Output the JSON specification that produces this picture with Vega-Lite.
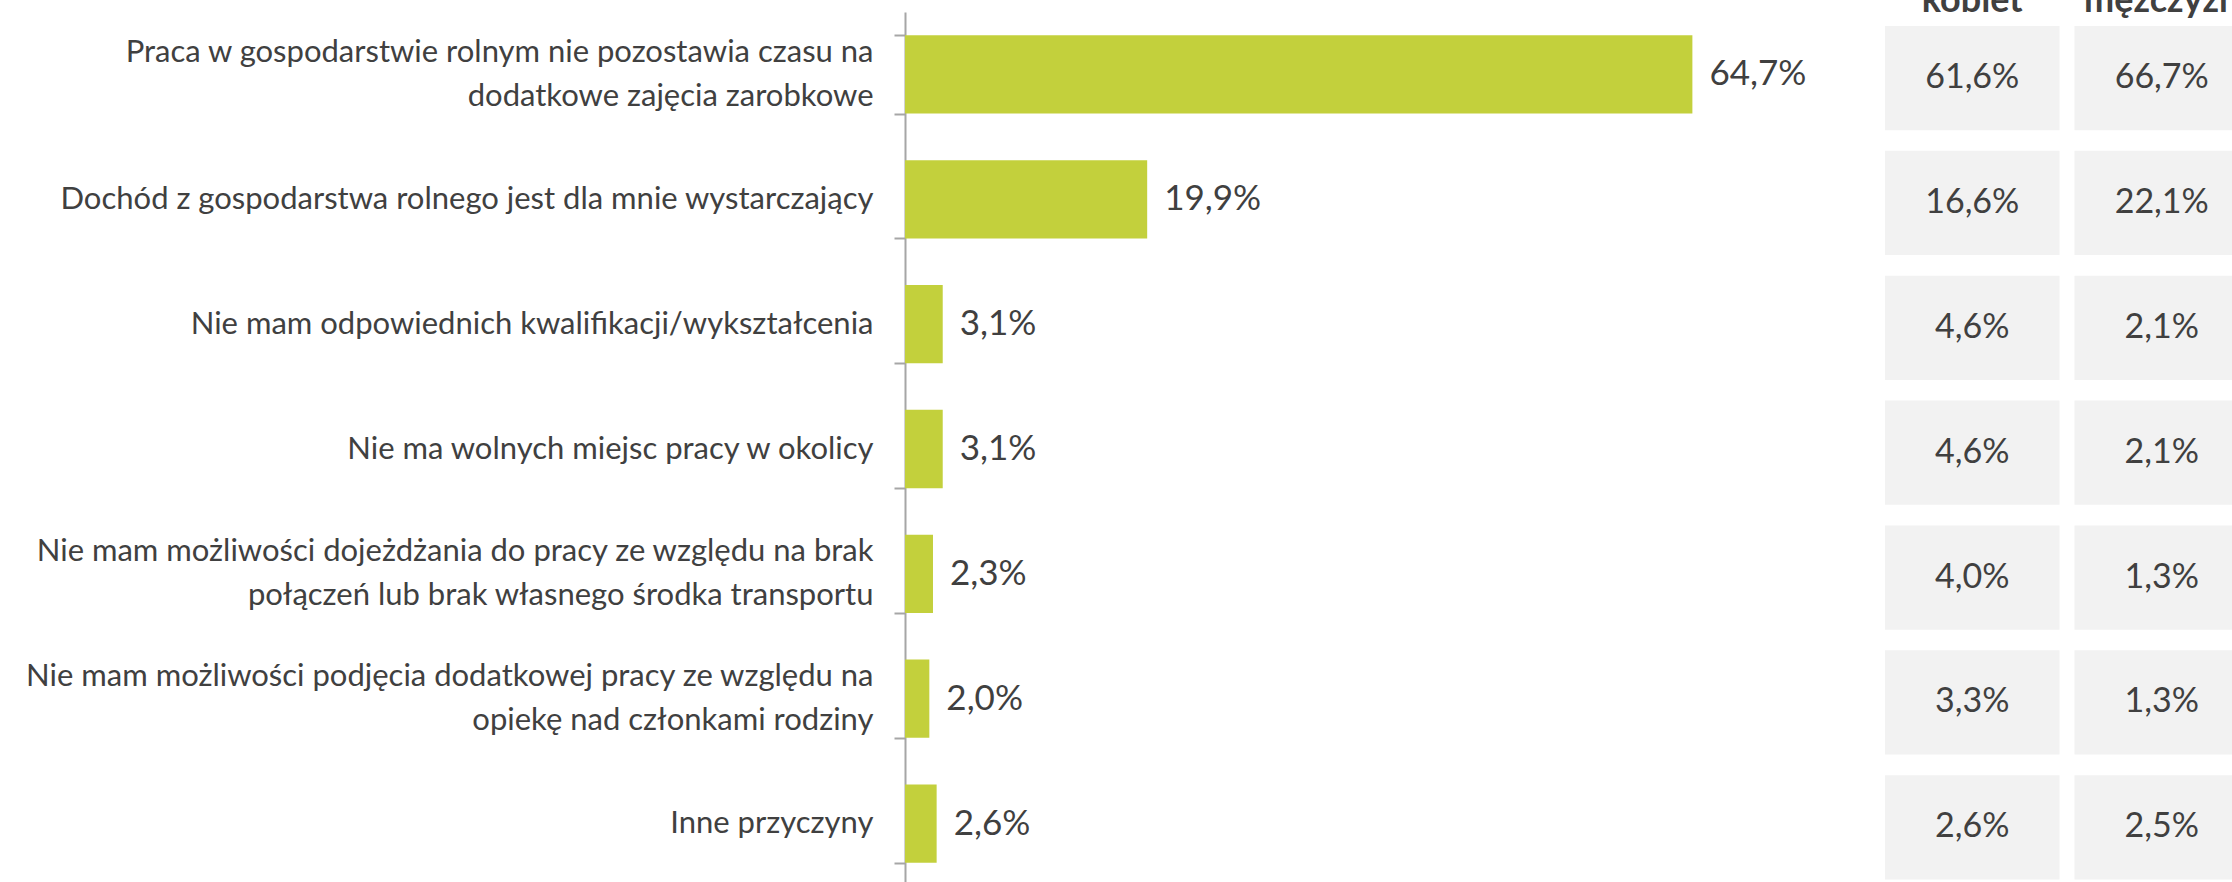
{
  "$schema": "https://vega.github.io/schema/vega-lite/v6.json",
  "autosize": {"type": "none"},
  "width": 1327,
  "height": 870,
  "padding": {"left": 905, "top": 12, "right": 0, "bottom": 0},
  "background": "white",
  "config": {
    "view": {"stroke": null},
    "locale": {"number": {"decimal": ",", "thousands": " ", "grouping": [3], "currency": ["", " zł"]}},
    "font": "Lato"
  },
  "datasets": {
    "ogolem": [
      {"reason": "Praca w gospodarstwie rolnym nie pozostawia czasu na|dodatkowe zajęcia zarobkowe", "value": 0.647},
      {"reason": "Dochód z gospodarstwa rolnego jest dla mnie wystarczający", "value": 0.199},
      {"reason": "Nie mam odpowiednich kwalifikacji/wykształcenia", "value": 0.031},
      {"reason": "Nie ma wolnych miejsc pracy w okolicy", "value": 0.031},
      {"reason": "Nie mam możliwości dojeżdżania do pracy ze względu na brak|połączeń lub brak własnego środka transportu", "value": 0.023},
      {"reason": "Nie mam możliwości podjęcia dodatkowej pracy ze względu na|opiekę nad członkami rodziny", "value": 0.020},
      {"reason": "Inne przyczyny", "value": 0.026}
    ],
    "plec": [
      {"reason": "Praca w gospodarstwie rolnym nie pozostawia czasu na|dodatkowe zajęcia zarobkowe", "sex": "kobiet", "value": 0.616},
      {"reason": "Praca w gospodarstwie rolnym nie pozostawia czasu na|dodatkowe zajęcia zarobkowe", "sex": "mężczyzn", "value": 0.667},
      {"reason": "Dochód z gospodarstwa rolnego jest dla mnie wystarczający", "sex": "kobiet", "value": 0.166},
      {"reason": "Dochód z gospodarstwa rolnego jest dla mnie wystarczający", "sex": "mężczyzn", "value": 0.221},
      {"reason": "Nie mam odpowiednich kwalifikacji/wykształcenia", "sex": "kobiet", "value": 0.046},
      {"reason": "Nie mam odpowiednich kwalifikacji/wykształcenia", "sex": "mężczyzn", "value": 0.021},
      {"reason": "Nie ma wolnych miejsc pracy w okolicy", "sex": "kobiet", "value": 0.046},
      {"reason": "Nie ma wolnych miejsc pracy w okolicy", "sex": "mężczyzn", "value": 0.021},
      {"reason": "Nie mam możliwości dojeżdżania do pracy ze względu na brak|połączeń lub brak własnego środka transportu", "sex": "kobiet", "value": 0.040},
      {"reason": "Nie mam możliwości dojeżdżania do pracy ze względu na brak|połączeń lub brak własnego środka transportu", "sex": "mężczyzn", "value": 0.013},
      {"reason": "Nie mam możliwości podjęcia dodatkowej pracy ze względu na|opiekę nad członkami rodziny", "sex": "kobiet", "value": 0.033},
      {"reason": "Nie mam możliwości podjęcia dodatkowej pracy ze względu na|opiekę nad członkami rodziny", "sex": "mężczyzn", "value": 0.013},
      {"reason": "Inne przyczyny", "sex": "kobiet", "value": 0.026},
      {"reason": "Inne przyczyny", "sex": "mężczyzn", "value": 0.025}
    ]
  },
  "layer": [
    {
      "data": {"name": "ogolem"},
      "encoding": {
        "y": {
          "field": "reason", "type": "nominal", "sort": null,
          "scale": {"range": [0, 874], "paddingInner": 0.373, "paddingOuter": 0.1865},
          "axis": {
            "title": null, "orient": "left",
            "domainColor": "#A6A6A6", "domainWidth": 2,
            "tickColor": "#A6A6A6", "tickWidth": 2, "tickSize": 11, "tickBand": "extent",
            "labelFont": "Lato", "labelFontSize": 31, "labelColor": "#404040",
            "labelPadding": 21, "labelLimit": 0, "labelLineHeight": 44,
            "labelOffset": {"condition": {"test": "indexof(datum.label, '|') >= 0", "value": -22}, "value": 0},
            "labelExpr": "split(datum.label, '|')", "grid": false
          }
        },
        "x": {
          "field": "value", "type": "quantitative",
          "scale": {"domain": [0, 1.0904], "nice": false, "zero": true},
          "axis": null
        }
      },
      "layer": [
        {"mark": {"type": "bar", "color": "#C3D03C"}},
        {
          "mark": {"type": "text", "align": "left", "baseline": "middle", "dx": 17, "font": "Lato", "fontSize": 35, "color": "#404040"},
          "encoding": {"text": {"field": "value", "type": "quantitative", "format": ".1%"}}
        }
      ]
    },
    {
      "data": {"name": "plec"},
      "encoding": {
        "y": {
          "field": "reason", "type": "nominal", "sort": null,
          "scale": {"range": [0, 874], "paddingInner": 0.165, "paddingOuter": 0.0825, "align": 0.68},
          "axis": null
        },
        "x": {
          "field": "sex", "type": "nominal", "sort": null,
          "scale": {"domain": ["kobiet", "mężczyzn"], "range": [980, 1344], "paddingInner": 0.079, "paddingOuter": 0},
          "axis": {
            "orient": "top", "title": null, "domain": false, "ticks": false,
            "labelFont": "Lato", "labelFontSize": 36, "labelFontWeight": "bold", "labelColor": "#404040",
            "labelBaseline": "alphabetic", "labelPadding": 1, "labelAngle": 0
          }
        }
      },
      "layer": [
        {"mark": {"type": "rect", "color": "#F2F2F2"}},
        {
          "mark": {"type": "text", "align": "center", "baseline": "middle", "font": "Lato", "fontSize": 34, "color": "#404040"},
          "encoding": {"text": {"field": "value", "type": "quantitative", "format": ".1%"}}
        }
      ]
    }
  ],
  "resolve": {"scale": {"x": "independent", "y": "independent"}, "axis": {"x": "independent", "y": "independent"}}
}
